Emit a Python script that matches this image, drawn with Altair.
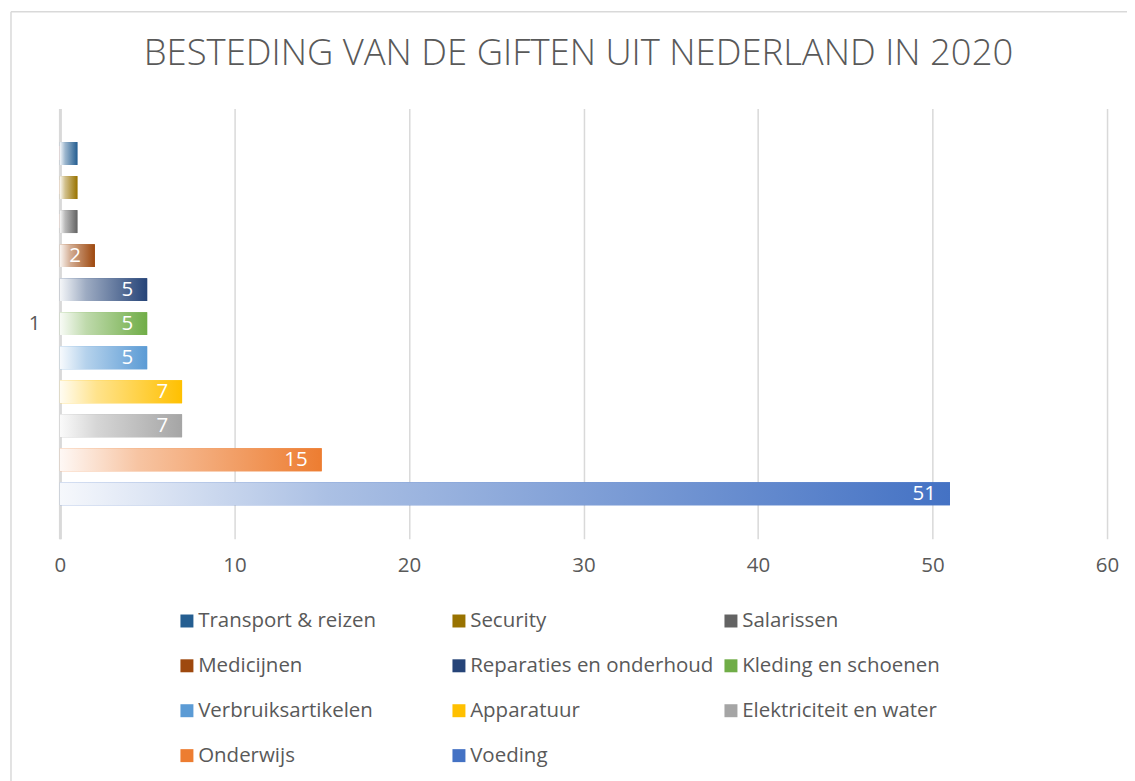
import altair as alt
import pandas as pd

categories = ["Transport & reizen", "Security", "Salarissen", "Medicijnen",
              "Reparaties en onderhoud", "Kleding en schoenen", "Verbruiksartikelen",
              "Apparatuur", "Elektriciteit en water", "Onderwijs", "Voeding"]
values = [1, 1, 1, 2, 5, 5, 5, 7, 7, 15, 51]
colors = ["#255E91", "#997300", "#636363", "#9E480E", "#264478", "#70AD47",
          "#5B9BD5", "#FFC000", "#A5A5A5", "#ED7D31", "#4472C4"]
group_label = ["1"] * len(categories)

df = pd.DataFrame({"cat": categories, "value": values, "group": group_label})

FONT = "Open Sans"
GREY = "#595959"
FS = 20.5


def mix(hexc, t):
    h = hexc.lstrip("#")
    r, g, b = int(h[0:2], 16), int(h[2:4], 16), int(h[4:6], 16)
    r = round(r + (255 - r) * t)
    g = round(g + (255 - g) * t)
    b = round(b + (255 - b) * t)
    return "#%02x%02x%02x" % (r, g, b)


def grad(c):
    return {"gradient": "linear", "x1": 0, "x2": 1, "y1": 0, "y2": 0,
            "stops": [{"offset": 0, "color": mix(c, 0.95)},
                      {"offset": 0.3, "color": mix(c, 0.55)},
                      {"offset": 1, "color": c}]}


y_enc = alt.Y("group:N", title=None,
              scale=alt.Scale(paddingInner=0, paddingOuter=0.0747),
              axis=alt.Axis(labelFont=FONT, labelFontSize=FS, labelColor=GREY,
                            labelPadding=20, ticks=False, domain=True,
                            domainColor="#d9d9d9", domainWidth=3, grid=False))
yoff_enc = alt.YOffset("cat:N", sort=categories,
                       scale=alt.Scale(paddingInner=0.326, paddingOuter=0.163))
x_enc = alt.X("value:Q", title=None,
              scale=alt.Scale(domain=[0, 60], nice=False),
              axis=alt.Axis(values=[0, 10, 20, 30, 40, 50, 60], labelFont=FONT,
                            labelFontSize=FS, labelColor=GREY, labelPadding=17,
                            labelFlush=False,
                            ticks=False, domain=False, grid=True,
                            gridColor="#d9d9d9", gridWidth=1.5))

base = alt.Chart(df).mark_bar().encode(
    x=x_enc, y=y_enc, yOffset=yoff_enc,
    color=alt.Color("cat:N", sort=categories,
                    scale=alt.Scale(domain=categories, range=colors),
                    legend=alt.Legend(title=None, orient="none", legendX=117, legendY=503,
                                      direction="horizontal",
                                      columns=3, gridAlign="all", columnPadding=6.5,
                                      rowPadding=24, symbolType="square",
                                      symbolSize=169, symbolStrokeWidth=0,
                                      labelFont=FONT, labelFontSize=FS,
                                      labelColor=GREY, labelLimit=400,
                                      labelOffset=1, padding=0))
)

conds = [{"test": "datum.cat === '%s'" % c, "value": grad(col)}
         for c, col in zip(categories[:-1], colors[:-1])]
overlay = alt.Chart(df).mark_bar().encode(
    x="value:Q", y="group:N", yOffset=alt.YOffset("cat:N", sort=categories),
    color=alt.ColorValue(value=grad(colors[-1]), condition=conds)
)

labels = alt.Chart(df).mark_text(align="right", baseline="middle", dx=-14,
                                 color="white", font=FONT, fontSize=FS).encode(
    x="value:Q", y="group:N", yOffset=alt.YOffset("cat:N", sort=categories),
    text="value:Q"
)

frame_data = alt.Data(values=[{"a": 1}])
frame_top = alt.Chart(frame_data).mark_rule(color="#d9d9d9", strokeWidth=1.5).encode(
    x=alt.value(-49), x2=alt.value(1080), y=alt.value(-97))
frame_left = alt.Chart(frame_data).mark_rule(color="#d9d9d9", strokeWidth=1.5).encode(
    x=alt.value(-49), y=alt.value(-97), y2=alt.value(680))

chart = alt.layer(frame_top, frame_left, base, overlay, labels).properties(
    width=1049, height=431,
    padding={"left": 52, "top": 100, "right": 20, "bottom": 270},
    autosize=alt.AutoSizeParams(type="none"),
    title=alt.TitleParams("BESTEDING VAN DE GIFTEN UIT NEDERLAND IN 2020",
                          font=FONT, fontSize=36.5, fontWeight=300, color=GREY,
                          anchor="middle", baseline="alphabetic", offset=0,
                          dy=91, dx=-5)
).configure_view(stroke=None)

chart.save("out.html", embed_options={"renderer": "svg", "actions": False})
